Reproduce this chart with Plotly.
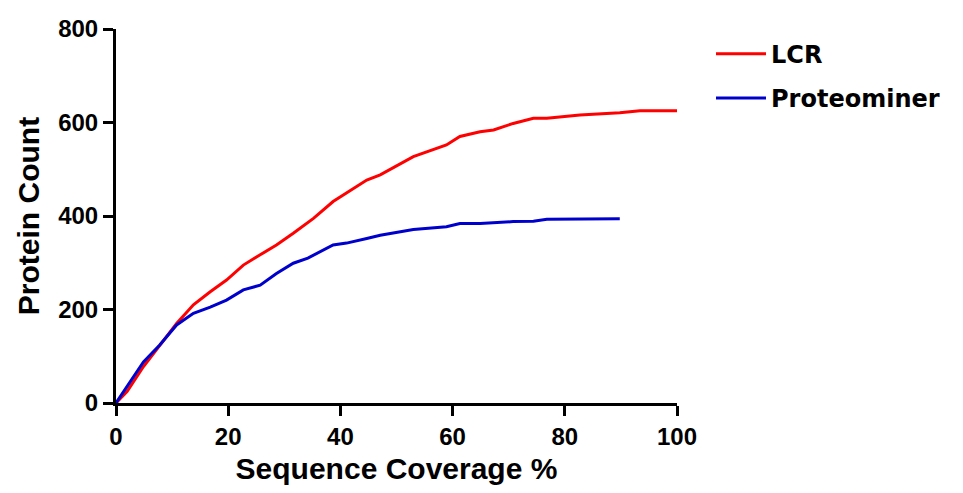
import plotly.graph_objects as go

# Sequence coverage (%) vs cumulative protein count
lcr_x = [0, 2, 4.9, 7.8, 10.8, 13.8, 16.8, 19.7, 22.7, 25.7, 28.6, 31.6, 35.2, 38.7,
         41.1, 44.7, 47.1, 53.0, 58.9, 61.3, 64.9, 67.3, 70.8, 74.4, 76.8, 82.7,
         89.8, 93.4, 100]
lcr_y = [0, 25, 78, 124, 170, 210, 238, 263, 295, 317, 338, 363, 395, 431,
         449, 477, 488, 527, 552, 570, 580, 584, 598, 609, 609, 616,
         621, 625, 625]

pm_x = [0, 2, 4.9, 7.8, 10.8, 13.8, 16.8, 19.7, 22.7, 25.7, 28.6, 31.6, 34.2,
        38.7, 41.1, 44.7, 47.1, 53.0, 58.9, 61.3, 64.9, 70.8, 74.4, 76.8, 82.7, 89.8]
pm_y = [0, 35, 88, 124, 167, 192, 205, 220, 242, 252, 277, 299, 310,
        338, 342, 352, 359, 371, 377, 384, 384, 388, 389, 393, 394, 394]

x_ticks = [0, 20, 40, 60, 80, 100]
y_ticks = [0, 200, 400, 600, 800]

FONT = "Liberation Sans, Arial, sans-serif"

fig = go.Figure()
fig.add_trace(go.Scatter(x=lcr_x, y=lcr_y, mode="lines", name="LCR",
                         legendgroup="a",
                         line=dict(color="#ff0000", width=3)))
fig.add_trace(go.Scatter(x=pm_x, y=pm_y, mode="lines", name="Proteominer",
                         legendgroup="b",
                         line=dict(color="#0000cc", width=3)))

axis_common = dict(
    showline=True, linecolor="black", linewidth=3,
    ticks="outside", ticklen=10, tickwidth=3, tickcolor="black",
    showgrid=False, zeroline=False,
    tickfont=dict(family=FONT, size=24, color="black", weight="bold"),
)

fig.update_layout(
    width=963, height=493,
    margin=dict(l=116, r=286, t=29, b=90),
    paper_bgcolor="white", plot_bgcolor="white",
    xaxis=dict(range=[0, 100], tickvals=x_ticks,
               title=dict(text="Sequence Coverage %", standoff=10,
                          font=dict(family=FONT, size=30, color="black", weight="bold")),
               **axis_common),
    yaxis=dict(range=[0, 800], tickvals=y_ticks,
               title=dict(text="Protein Count", standoff=10,
                          font=dict(family=FONT, size=30, color="black", weight="bold")),
               **axis_common),
    legend=dict(x=1.0606, y=0.993, xanchor="left", yanchor="top",
                itemwidth=50,
                font=dict(family="DejaVu Sans, sans-serif", size=24, color="black", weight="bold"),
                tracegroupgap=10, bgcolor="rgba(0,0,0,0)"),
    showlegend=True,
)

fig.write_html("out.html")
